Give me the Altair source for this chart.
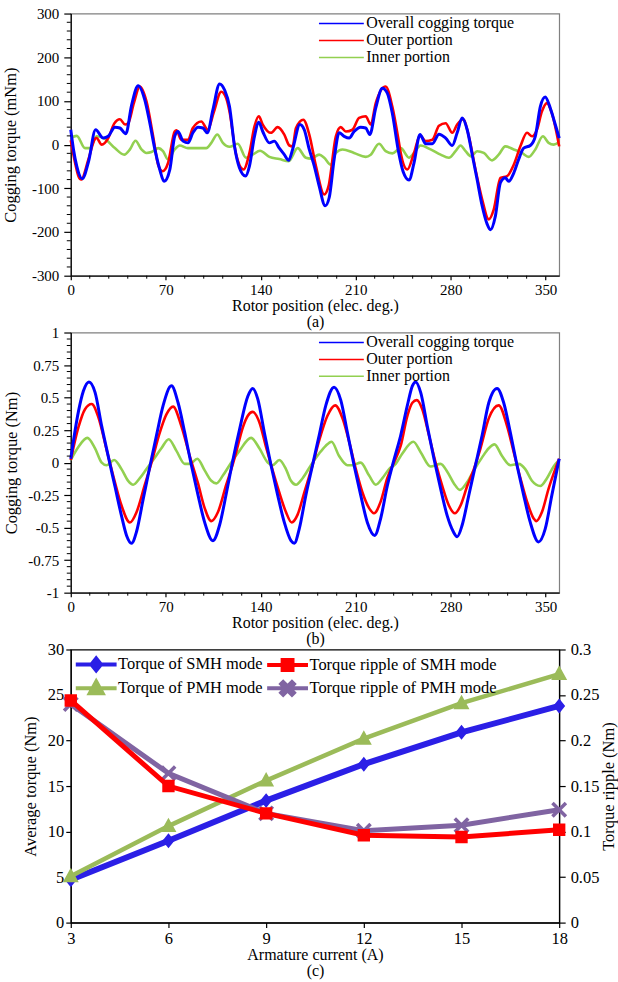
import altair as alt
import pandas as pd

FONT = "Liberation Serif"

# ---------------- (a) cogging torque, mNm : (rotor position, value) ----------------
a_overall = [(0, 34), (2, -11), (4.4, -49), (8.5, -78), (13, -40), (18.3, 34), (24, 15), (27.6, 19),
             (32.5, 40), (36.2, 38), (40.6, 25), (44.8, 90), (49.7, 135), (54.6, 102), (58.3, 49),
             (62, -11), (65.6, -57), (68.8, -84), (73, -57), (76.6, 19), (79, 30), (82.8, 8), (86.4, 4),
             (90, 27), (93.8, 40), (97.4, 38), (100.6, 27), (104.8, 80), (109.7, 139), (113.4, 125),
             (117, 87), (120.7, -4), (124.3, -53), (128.8, -72), (131.7, -49), (135.4, 19), (138.6, 51),
             (141.5, 30), (146.4, 4), (150, 8), (153.7, -8), (157.4, -23), (160.6, -36), (163.5, -11),
             (168.9, 46), (172.1, 34), (175.8, -11), (179.5, -49), (183.1, -95), (187.5, -140),
             (190.5, -121), (194.1, -34), (197.8, 27), (201.5, 19), (205.2, 15), (208.8, 30), (213.7, 40),
             (217.4, 38), (220.4, 23), (224.8, 84), (229.7, 129), (233.3, 118), (237, 72), (241.5, -15),
             (245, -62), (249.3, -81), (253, -42), (257.4, 23), (261.6, 2), (266.5, 2), (271.4, 24),
             (276.3, 15), (281.2, -2), (284.8, 27), (288.5, 61), (292.2, 34), (295.9, -23), (299.5, -80),
             (303.2, -140), (306.9, -182), (309.3, -195), (313, -163), (316.7, -87), (320.3, -76),
             (322.8, -84), (326.5, -65), (330.1, -34), (333.8, -8), (338.7, -2), (342.4, 19), (346.1, 87),
             (349.7, 109), (353.4, 84), (357.1, 46), (360, 15)]
a_outer = [(0, 10), (3.2, -42), (5.6, -72), (7.6, -80), (13, -34), (17.9, 13), (19, 15), (22.8, 0),
           (27.6, 15), (32, 48), (36.2, 58), (40, 46), (42.3, 49), (46.5, 95), (50.9, 133), (55.8, 99),
           (60.7, 19), (64.4, -46), (67.6, -61), (71.7, -42), (76.6, 30), (77.9, 33), (81.5, 11),
           (86.4, 11), (90, 38), (96.2, 53), (101, 34), (105.5, 75), (110.9, 121), (114.6, 106), (117, 76),
           (121.9, -23), (127.3, -57), (131.7, -19), (135.4, 42), (138.6, 65), (141.5, 46), (147.6, 27),
           (152.5, 40), (157.4, 23), (161.1, -2), (163.5, -4), (166, 38), (171.4, 57), (175.8, 23),
           (180.7, -49), (186.8, -114), (190, -95), (195.4, 19), (199, 40), (202.7, 30), (207.6, 34),
           (212.5, 61), (217.4, 65), (221.1, 46), (224.8, 95), (232.1, 133), (237, 87), (241.9, 5),
           (243.2, -19), (248.1, -57), (253, -19), (257.4, 21), (261.6, 8), (266.5, 11), (271.4, 43),
           (276.3, 49), (281.2, 27), (284.8, 46), (289.2, 58), (293.4, 19), (298.3, -57), (303.2, -125),
           (308.1, -171), (311.8, -148), (316.7, -76), (321.6, -72), (326.5, -46), (331.4, -4),
           (336.3, 27), (340, 19), (343.6, 34), (347.3, 76), (351, 95), (354.6, 72), (360, -4)]
a_inner = [(0, 15), (4.4, 20), (10.5, -8), (14.2, -8), (19, 19), (25.2, 13), (32.5, -8), (39.4, -23),
           (43.6, -11), (47.7, 9), (52.1, -11), (55.8, -19), (59.5, -17), (64.4, -8), (68, -15),
           (71.7, -34), (76.6, -11), (80.3, -2), (86.4, -8), (96.2, -8), (99.9, -8), (103.6, 4), (108, 23),
           (112.1, 4), (117, -5), (123.1, 2), (129.2, -30), (134.1, -23), (139.5, -14), (146.4, -28),
           (153.7, -33), (160.6, -38), (167.2, -8), (173.3, -30), (177, -32), (183.1, -23), (186.8, -30),
           (191.7, -46), (195.4, -19), (200.3, -11), (208.8, -19), (217.4, -28), (221.1, -23), (227.2, 2),
           (232.1, -15), (237, -20), (243.2, -8), (249.3, -30), (253, -19), (257.9, -2), (265.2, -11),
           (272.6, -23), (278.7, -30), (283.6, -15), (287.3, -2), (291, -15), (295.1, -27), (299.5, -15),
           (304.4, -19), (310.5, -36), (315.4, -23), (320.3, -4), (326.5, -11), (332.6, -19),
           (337.5, -28), (342.4, -11), (348, 19), (352.2, 4), (356, 0), (360, 6)]

# ---------------- (b) cogging torque, Nm ----------------
b_overall = [(0, 0.03), (5.6, 0.39), (9.3, 0.55), (13.4, 0.62), (17.9, 0.54), (22.8, 0.28), (27.6, 0.05),
             (32.5, -0.18), (37.4, -0.41), (41.1, -0.56), (44.8, -0.62), (48.5, -0.53), (53.4, -0.28),
             (58.3, -0.03), (63.2, 0.21), (68.1, 0.44), (74.2, 0.59), (79.1, 0.46), (84, 0.23),
             (88.9, -0.02), (93.8, -0.25), (98.7, -0.46), (104.8, -0.60), (109.7, -0.48), (114.6, -0.24),
             (119.5, 0.02), (124.3, 0.25), (130.5, 0.51), (134.1, 0.57), (137.8, 0.49), (142.7, 0.23),
             (147.6, -0.02), (152.5, -0.25), (157.4, -0.46), (162.3, -0.60), (164.8, -0.62), (168.4, -0.51),
             (173.3, -0.25), (178.2, -0.02), (183.1, 0.21), (188, 0.44), (194.1, 0.58), (199, 0.48),
             (203.9, 0.23), (208.8, -0.02), (213.7, -0.25), (218.6, -0.46), (224, -0.56), (228.4, -0.43),
             (233.3, -0.18), (238.2, 0.02), (243.2, 0.21), (248.1, 0.44), (251.8, 0.59), (254.2, 0.62),
             (257.9, 0.54), (262.8, 0.28), (267.7, 0.03), (272.6, -0.20), (277.5, -0.41), (281.9, -0.53),
             (284.8, -0.57), (288.5, -0.48), (293.4, -0.25), (298.3, -0.02), (303.2, 0.21), (308.1, 0.46),
             (314.2, 0.57), (319.1, 0.46), (324, 0.23), (328.9, -0.02), (333.8, -0.25), (338.7, -0.46),
             (344.8, -0.61), (349.7, -0.51), (354.6, -0.25), (360, 0.03)]
b_outer = [(0, 0.02), (5.6, 0.27), (10.5, 0.41), (15.4, 0.45), (20.3, 0.35), (26.4, 0.10), (32.5, -0.15),
           (37.4, -0.33), (43.6, -0.46), (48.5, -0.38), (54.6, -0.17), (59.5, 0.0), (65.6, 0.23),
           (70.5, 0.37), (75.4, 0.43), (81.5, 0.28), (87.7, 0.05), (93.8, -0.16), (98.7, -0.35),
           (103.6, -0.45), (108.5, -0.38), (114.6, -0.17), (119.5, -0.01), (121.9, 0.08), (126.8, 0.27),
           (130.5, 0.36), (134.1, 0.39), (139, 0.31), (143.9, 0.12), (148.8, -0.06), (153.7, -0.23),
           (158.6, -0.38), (162.8, -0.46), (167.2, -0.40), (172.1, -0.23), (178.2, -0.02), (183.1, 0.17),
           (189.2, 0.36), (194.9, 0.44), (200.3, 0.34), (205.2, 0.16), (210.1, -0.05), (215, -0.23),
           (219.9, -0.35), (223.5, -0.39), (228.4, -0.30), (233.3, -0.12), (238.2, 0.0), (243.2, 0.13),
           (248.1, 0.36), (251.8, 0.46), (255, 0.48), (259.1, 0.41), (264, 0.21), (268.9, 0.0),
           (273.8, -0.18), (278.7, -0.33), (283.1, -0.39), (287.3, -0.33), (292.2, -0.18), (297.1, -0.05),
           (302, 0.11), (308.1, 0.34), (315.4, 0.44), (321.6, 0.28), (326.5, 0.08), (331.4, -0.12),
           (336.3, -0.30), (341.2, -0.43), (343.1, -0.45), (347.3, -0.38), (352.2, -0.20), (357.1, -0.05),
           (360, 0.03)]
b_inner = [(0, 0.02), (5.6, 0.12), (12.2, 0.19), (17.9, 0.11), (22.8, 0.0), (26.4, -0.02), (32, 0.02),
           (37.4, -0.05), (42.3, -0.14), (46, -0.17), (50.9, -0.12), (55.8, -0.05), (60.7, 0.02),
           (66.8, 0.11), (72.2, 0.18), (77.9, 0.09), (84, -0.01), (87.7, -0.01), (93.3, 0.03),
           (98.7, -0.06), (103.6, -0.14), (107.3, -0.16), (112.1, -0.10), (117, -0.02), (124.3, 0.09),
           (132.9, 0.19), (139, 0.11), (145.2, 0.0), (148.8, -0.02), (153.7, 0.02), (158.6, -0.05),
           (162.3, -0.14), (166, -0.17), (170.9, -0.12), (177, -0.02), (183.1, 0.07), (188, 0.13),
           (192.2, 0.16), (197.8, 0.05), (203.9, -0.02), (207.6, -0.02), (213.7, 0.0), (219.9, -0.10),
           (224.8, -0.17), (229.7, -0.12), (234.6, -0.05), (239.5, -0.01), (244.4, 0.07), (252.5, 0.16),
           (257.9, 0.08), (265.2, -0.03), (272.6, -0.01), (277.5, -0.07), (282.4, -0.16), (286.8, -0.21),
           (292.2, -0.15), (297.1, -0.06), (303.2, 0.04), (308.1, 0.11), (312.3, 0.14), (317.9, 0.05),
           (324, -0.02), (330.1, -0.01), (335, -0.05), (339.9, -0.14), (346.1, -0.18), (351, -0.12),
           (355.9, -0.03), (360, 0.02)]

# ---------------- (c) torque and ripple vs armature current ----------------
current_A = [3, 6, 9, 12, 15, 18]
torque_smh = [4.7, 9.0, 13.4, 17.4, 20.9, 23.8]
torque_pmh = [5.1, 10.6, 15.6, 20.2, 24.1, 27.3]
ripple_smh = [0.244, 0.150, 0.120, 0.096, 0.094, 0.102]
ripple_pmh = [0.240, 0.164, 0.120, 0.101, 0.107, 0.124]

cog_names = ["Overall cogging torque", "Outer portion", "Inner portion"]
cog_colors = ["#0000FF", "#FF0000", "#92D050"]
cog_widths = [3.0, 2.6, 2.6]
angle_ticks = [0, 70, 140, 210, 280, 350]
angle_minor = [v for v in range(14, 360, 14) if v % 70 != 0]
a_yticks = [-300, -200, -100, 0, 100, 200, 300]
a_yminor = [v for v in range(-280, 300, 20) if v % 100 != 0]
b_yticks = [-1, -0.75, -0.5, -0.25, 0, 0.25, 0.5, 0.75, 1]
b_yminor = [round(-1 + 0.05 * k, 2) for k in range(1, 40) if k % 5 != 0]

# legend order (filled column by column): col 1 = torques, col 2 = ripples
c_names = ["Torque of SMH mode", "Torque of PMH mode", "Torque ripple of SMH mode", "Torque ripple of PMH mode"]
c_colors = ["#2B1FE6", "#9BBB59", "#FF0000", "#8064A2"]
STUB = "M-2.56,0H2.56"
c_shapes = [
    STUB + "M0,-0.75L0.6,0L0,0.75L-0.6,0Z",
    STUB + "M0,-0.85L0.8,0.6L-0.8,0.6Z",
    STUB + "M-0.62,-0.62H0.62V0.62H-0.62Z",
    STUB + "M-0.8,-0.55L-0.55,-0.8L0,-0.25L0.55,-0.8L0.8,-0.55L0.25,0L0.8,0.55L0.55,0.8L0,0.25L-0.55,0.8L-0.8,0.55L-0.25,0Z",
]

W = 490


def cog_panel(series, field, ydom, yticks, yminor, ytitle, tag, height, title_pad):
    rows = []
    for name, pts in zip(cog_names, series):
        for ang, val in pts:
            rows.append({"angle": ang, "val": val, field: name})
    df = pd.DataFrame(rows)
    xs = alt.Scale(domain=[0, 360], nice=False, zero=False)
    ys = alt.Scale(domain=ydom, nice=False, zero=False)
    xaxis = alt.Axis(values=angle_ticks, title=["Rotor position (elec. deg.)", tag], tickSize=4,
                     labelPadding=3, labelFontSize=15, labelFlush=False, titleFontSize=16,
                     titleLineHeight=16, titlePadding=0)
    yaxis = alt.Axis(values=yticks, title=ytitle, tickSize=7, labelPadding=5, labelFontSize=15,
                     labelFlush=False, labelExpr="datum.value + ''", titleFontSize=16.5,
                     titlePadding=title_pad)
    legend = alt.Legend(orient="none", legendX=263.5, legendY=2.0, title=None, symbolType="M-3.75,0H3.75",
                        symbolSize=144, labelFontSize=16, labelOffset=17, rowPadding=1, padding=0,
                        labelLimit=300)
    color = alt.Color(f"{field}:N", scale=alt.Scale(domain=cog_names, range=cog_colors), legend=legend)
    layers = []
    for i in [2, 1, 0]:
        layers.append(
            alt.Chart(df)
            .transform_filter(alt.datum[field] == cog_names[i])
            .mark_line(strokeWidth=cog_widths[i], interpolate="monotone")
            .encode(
                x=alt.X("angle:Q", scale=xs, axis=xaxis),
                y=alt.Y("val:Q", scale=ys, axis=yaxis),
                color=color,
            )
        )
    ymin_layer = alt.Chart(pd.DataFrame({"t": yminor})).mark_rule(color="black", strokeWidth=1).encode(
        y=alt.Y("t:Q", scale=ys, axis=yaxis), x=alt.value(0), x2=alt.value(-4))
    xmin_layer = alt.Chart(pd.DataFrame({"t": angle_minor})).mark_rule(color="black", strokeWidth=1).encode(
        x=alt.X("t:Q", scale=xs, axis=xaxis), y=alt.value(height), y2=alt.value(height + 3))
    return alt.layer(*layers, ymin_layer, xmin_layer).properties(
        width=W, height=height, view=alt.ViewBackground(stroke="#808080", strokeWidth=1.2))


panel_a = cog_panel([a_overall, a_outer, a_inner], "series_a", [-300, 300], a_yticks, a_yminor,
                    "Cogging torque (mNm)", "(a)", 263, 12.7)
panel_b = cog_panel([b_overall, b_outer, b_inner], "series_b", [-1, 1], b_yticks, b_yminor,
                    "Cogging torque (Nm)", "(b)", 261, 8.7)

# ---------- panel (c) ----------
df_t = pd.DataFrame({"current": current_A * 2, "torque": torque_smh + torque_pmh,
                     "series_c": [c_names[0]] * 6 + [c_names[1]] * 6})
df_r = pd.DataFrame({"current": current_A * 2, "ripple": ripple_smh + ripple_pmh,
                     "series_c": [c_names[2]] * 6 + [c_names[3]] * 6})

legend_c = alt.Legend(orient="none", legendX=15.5, legendY=5, title=None, columns=2, columnPadding=-5,
                      rowPadding=-9.6, symbolSize=256, symbolStrokeWidth=4, labelFontSize=16.5,
                      labelOffset=12, padding=0, labelLimit=300)
color_c = alt.Color("series_c:N", scale=alt.Scale(domain=c_names, range=c_colors), legend=legend_c)
fill_c = alt.Fill("series_c:N", scale=alt.Scale(domain=c_names, range=c_colors), legend=legend_c)
shape_c = alt.Shape("series_c:N", scale=alt.Scale(domain=c_names, range=c_shapes), legend=legend_c)

xc = alt.Scale(domain=[3, 18], nice=False, zero=False)
xaxis_c = alt.Axis(values=current_A, title=["Armature current (A)", "(c)"], tickSize=5, labelPadding=3,
                   labelFontSize=16.5, labelFlush=False, titleFontSize=16, titleLineHeight=16,
                   titlePadding=0)
yt_scale = alt.Scale(domain=[0, 30], nice=False, zero=False)
yr_scale = alt.Scale(domain=[0, 0.3], nice=False, zero=False)
yaxis_t = alt.Axis(values=[0, 5, 10, 15, 20, 25, 30], title="Average torque (Nm)", tickSize=5,
                   labelPadding=2, labelFontSize=16.5, labelFlush=False, titleFontSize=16.5,
                   titlePadding=8.7)
yaxis_r = alt.Axis(values=[0, 0.05, 0.1, 0.15, 0.2, 0.25, 0.3], orient="right", title="Torque ripple (Nm)",
                   tickSize=6, labelPadding=5, labelFontSize=16.5, labelFlush=False,
                   labelExpr="datum.value + ''", titleFontSize=16.5, titlePadding=2, titleAngle=270,
                   titleBaseline="top")


def series_layers(df, yfield, yscale, yaxis, name, width):
    base = alt.Chart(df).transform_filter(alt.datum.series_c == name)
    xenc = alt.X("current:Q", scale=xc, axis=xaxis_c)
    yenc = alt.Y(f"{yfield}:Q", scale=yscale, axis=yaxis)
    line = base.mark_line(strokeWidth=width).encode(x=xenc, y=yenc, color=color_c)
    pts = base.mark_point(filled=True, opacity=1, size=400).encode(x=xenc, y=yenc, fill=fill_c, shape=shape_c)
    return [line, pts]


left = alt.layer(*(series_layers(df_t, "torque", yt_scale, yaxis_t, c_names[0], 6)
                   + series_layers(df_t, "torque", yt_scale, yaxis_t, c_names[1], 4.5)))
right = alt.layer(*(series_layers(df_r, "ripple", yr_scale, yaxis_r, c_names[3], 5)
                    + series_layers(df_r, "ripple", yr_scale, yaxis_r, c_names[2], 5)))
panel_c = alt.layer(left, right).resolve_scale(y="independent").properties(
    width=W, height=274, view=alt.ViewBackground(stroke="black", strokeWidth=1.2))

chart = (
    alt.vconcat(panel_a, panel_b, panel_c, spacing=57, bounds="flush")
    .resolve_scale(color="independent", fill="independent", shape="independent", x="independent",
                   y="independent")
    .properties(padding={"left": 2, "top": 4, "right": 0, "bottom": 0}, background="white")
    .configure_axis(labelFont=FONT, titleFont=FONT, labelColor="black", titleColor="black",
                    domainColor="black", tickColor="black", titleFontWeight="normal", grid=False,
                    domainWidth=1.2, tickWidth=1.2)
    .configure_legend(labelFont=FONT, labelColor="black")
)

chart.save("out.html", embed_options={"renderer": "svg", "actions": False})
